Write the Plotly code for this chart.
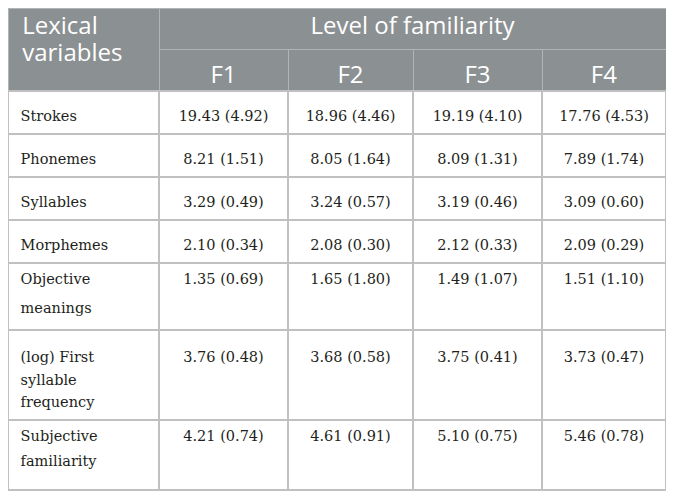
import plotly.graph_objects as go

# table data
variables = ["Strokes", "Phonemes", "Syllables", "Morphemes",
             "Objective<br>meanings", "(log) First<br>syllable<br>frequency",
             "Subjective<br>familiarity"]
levels = ["F1", "F2", "F3", "F4"]
mean_f1 = [19.43, 8.21, 3.29, 2.10, 1.35, 3.76, 4.21]
sd_f1 = [4.92, 1.51, 0.49, 0.34, 0.69, 0.48, 0.74]
mean_f2 = [18.96, 8.05, 3.24, 2.08, 1.65, 3.68, 4.61]
sd_f2 = [4.46, 1.64, 0.57, 0.30, 1.80, 0.58, 0.91]
mean_f3 = [19.19, 8.09, 3.19, 2.12, 1.49, 3.75, 5.10]
sd_f3 = [4.10, 1.31, 0.46, 0.33, 1.07, 0.41, 0.75]
mean_f4 = [17.76, 7.89, 3.09, 2.09, 1.51, 3.73, 5.46]
sd_f4 = [4.53, 1.74, 0.60, 0.29, 1.10, 0.47, 0.78]

header_left = "Lexical variables"
header_top = "Level of familiarity"

W, H = 674, 496
HEAD_FILL = "#8b9092"
HEAD_LINE = "#b0b4b6"
GRID = "#c0c0c0"
CLEAR = "rgba(0,0,0,0)"
NBSP = "\u00a0"
SANS = "Open Sans"
SERIF = "DejaVu Serif"

# column widths in px; the last one is an empty spacer that plotly clips
col_w = [151, 129, 125, 129, 124, 16]
row_h = [43, 43, 43, 43, 67, 90, 70]
# per row: cell font size (sets line spacing) and whether to push text down
row_font = [16.2, 16.2, 16.2, 16.2, 22, 17.5, 19]
row_lead = [True, True, True, True, False, True, False]
OFF = 8          # plotly draws a table this far below its domain top
head_top, head_mid, body_top = 8, 49, 91


def fmt(means, sds):
    return [f"{m:.2f} ({s:.2f})" for m, s in zip(means, sds)]


def cell_text(text, size, lead=False):
    # each line gets its own size; the cell font only sets the line spacing.
    # an optional near-empty first line pushes the text down in the cell.
    parts = [f"<span style='font-size:{size}px'>{t}</span>" for t in text.split("<br>")]
    if lead:
        parts = [f"<span style='font-size:1px'>{NBSP}</span>"] + parts
    out = "<br>".join(parts)
    if "<br>" not in out:
        out += "<br>"
    return out


def ytop(px):
    return 1 - (px - OFF) / H


cols = [variables, fmt(mean_f1, sd_f1), fmt(mean_f2, sd_f2),
        fmt(mean_f3, sd_f3), fmt(mean_f4, sd_f4)]
lex_1, lex_2 = header_left.split(" ")

fig = go.Figure()

# first header column spans both header rows; second word sits lower in it
fig.add_trace(go.Table(
    domain=dict(x=[0, 1], y=[0, ytop(head_top)]),
    columnwidth=[col_w[0], sum(col_w[1:])],
    header=dict(values=[cell_text(NBSP + lex_2, 24, lead=True), ""],
                height=body_top - head_top,
                fill_color=[HEAD_FILL, CLEAR],
                line=dict(color=HEAD_LINE, width=[1, 0]),
                font=dict(family=SANS, size=34, color="white"),
                align="left"),
    cells=dict(values=[[], []], height=0),
))

# header row 1: first word of the column title, "Level of familiarity" across
fig.add_trace(go.Table(
    domain=dict(x=[0, 1], y=[0, ytop(head_top)]),
    columnwidth=[col_w[0], sum(col_w[1:5]), col_w[5]],
    header=dict(values=[NBSP + lex_1, header_top, ""], height=head_mid - head_top,
                fill_color=[CLEAR, HEAD_FILL, CLEAR],
                line=dict(color=HEAD_LINE, width=[0, 1, 0]),
                font=dict(family=SANS, size=24, color="white"),
                align=["left", "center", "center"]),
    cells=dict(values=[[], [], []], height=0),
))

# header row 2: F1..F4
fig.add_trace(go.Table(
    domain=dict(x=[0, 1], y=[0, ytop(head_mid)]),
    columnwidth=col_w,
    header=dict(values=[""] + [cell_text(v, 24, lead=True) for v in levels] + [""],
                height=body_top - head_mid,
                fill_color=[CLEAR] + [HEAD_FILL] * 4 + [CLEAR],
                line=dict(color=HEAD_LINE, width=[0] + [1] * 4 + [0]),
                font=dict(family=SANS, size=13.5, color="white"),
                align="center"),
    cells=dict(values=[[]] * 6, height=0),
))

# body: one table strip per row so every row keeps its own height
y = body_top
for i, h in enumerate(row_h):
    label = NBSP + cols[0][i].replace("<br>", "<br>" + NBSP)
    vals = ([cell_text(label, 14.5, lead=row_lead[i])]
            + [cell_text(c[i], 14.5, lead=row_lead[i]) for c in cols[1:]] + [""])
    fig.add_trace(go.Table(
        domain=dict(x=[0, 1], y=[0, ytop(y)]),
        columnwidth=col_w,
        header=dict(values=vals, height=h,
                    fill_color=["white"] * 5 + [CLEAR],
                    line=dict(color=GRID, width=[1.5] * 5 + [0]),
                    font=dict(family=SERIF, size=row_font[i], color="#231f20"),
                    align=["left", "center", "center", "center", "center", "center"]),
        cells=dict(values=[[]] * 6, height=0),
    ))
    y += h

fig.update_layout(width=W, height=H, margin=dict(l=0, r=0, t=0, b=0),
                  paper_bgcolor="white", plot_bgcolor="white")
fig.write_html("out.html")
